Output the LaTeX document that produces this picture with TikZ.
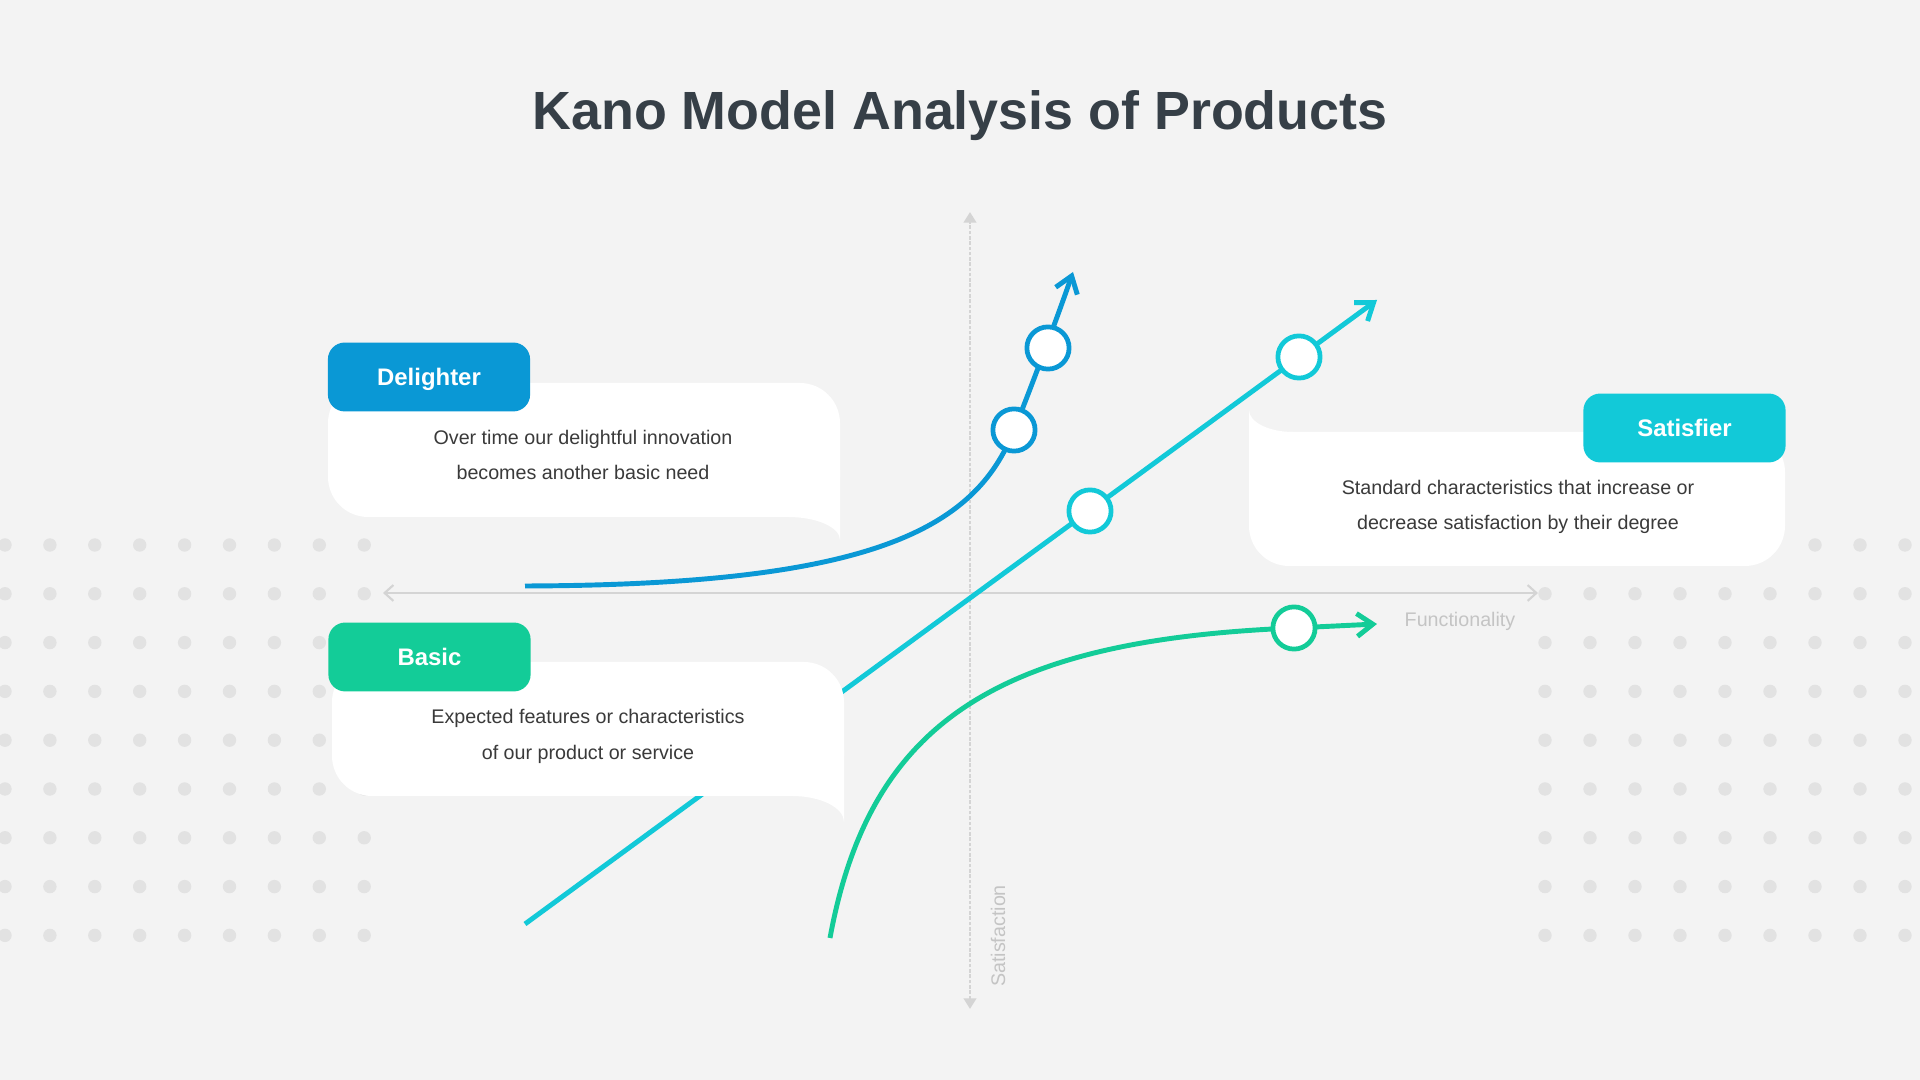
\documentclass[tikz,border=0pt]{standalone}
\usepackage{fontspec}
\setmainfont{Liberation Sans}
\usetikzlibrary{arrows.meta}
\definecolor{bgcol}{HTML}{F3F3F3}
\definecolor{dotcol}{HTML}{E2E2E2}
\definecolor{axiscol}{HTML}{D4D4D4}
\definecolor{titlecol}{HTML}{363F47}
\definecolor{textcol}{HTML}{3A3A3A}
\definecolor{delblue}{HTML}{0A98D5}
\definecolor{satcyan}{HTML}{12C9D8}
\definecolor{basgreen}{HTML}{13CC98}
\definecolor{faintcol}{HTML}{C4C4C4}

\begin{document}
\begin{tikzpicture}[x=0.01cm, y=-0.01cm,
  tagbox/.style={rounded corners=4.8pt, minimum width=57.5pt, minimum height=19.6pt, inner sep=0pt,
    text=white, font=\fontsize{6.8pt}{8pt}\selectfont\bfseries, text height=4.9pt, text depth=0pt},
  blurb/.style={anchor=base, text=textcol, font=\fontsize{5.6pt}{7pt}\selectfont, inner sep=0pt},
  ring/.style={circle, draw=#1, fill=white, line width=1.35pt, minimum size=12pt, inner sep=0pt},
  trend/.style={draw=#1, line width=1.4pt, -{Straight Barb[length=4.5pt, width=6.5pt]}},
  axislabel/.style={anchor=base, text=faintcol, font=\fontsize{5.6pt}{7pt}\selectfont, inner sep=0pt}]

  \fill[bgcol] (0,0) rectangle (1920,1080);
  \useasboundingbox (0,0) rectangle (1920,1080);

  \foreach \i in {0,...,8}
    \foreach \j in {0,...,8} {
      \fill[dotcol] (5+44.9*\i, 545+48.8*\j) circle (6.7);
      \fill[dotcol] (1545+45*\i, 545+48.8*\j) circle (6.7);
    }

  \node[anchor=base, text=titlecol, font=\fontsize{15.3pt}{18pt}\selectfont\bfseries, inner sep=0pt] (title) at (960,130) {Kano Model Analysis of Products};

  \coordinate (xl) at (383,593);
  \coordinate (xr) at (1538,593);
  \coordinate (yb) at (970,1009);
  \coordinate (yt) at (970,212);
  \draw[axiscol, line width=0.6pt, {Straight Barb[length=2.5pt,width=4.5pt]}-{Straight Barb[length=2.5pt,width=4.5pt]}] (xl) -- (xr);
  \draw[axiscol, line width=0.8pt, dash pattern=on 1pt off 0.5pt, {Triangle[length=3pt,width=3.5pt]}-{Triangle[length=3pt,width=3.5pt]}] (yb) -- (yt);
  \node[axislabel] (xlabel) at (1460,627) {Functionality};
  \node[axislabel, rotate=90] (ylabel) at (1005,936) {Satisfaction};

  \coordinate (sstart) at (525,924);
  \coordinate (s1) at (1090,511);
  \coordinate (s2) at (1299,357);
  \coordinate (stip) at (1377,300);
  \draw[trend=satcyan] (sstart) -- (stip);

  \fill[white, rounded corners=11.4pt] (328,383) rectangle (840,517);
  \fill[white] (788,517) .. controls (816.7,517) and (840,527.3) .. (840,540) -- (840,470) -- (788,470) -- cycle;
  \fill[white, rounded corners=11.4pt] (332,662) rectangle (844,796);
  \fill[white] (792,796) .. controls (820.7,796) and (844,807.6) .. (844,822) -- (844,750) -- (792,750) -- cycle;
  \fill[white, rounded corners=11.4pt] (1249,432) rectangle (1785,566);
  \fill[white] (1249,410) .. controls (1249,422.1) and (1268.7,432) .. (1293,432) -- (1293,480) -- (1249,480) -- cycle;

  \node[tagbox, fill=delblue] (dtag) at (429,377) {Delighter};
  \node[tagbox, fill=basgreen] (btag) at (429.5,657) {Basic};
  \node[tagbox, fill=satcyan] (stag) at (1684.5,428) {Satisfier};

  \node[blurb] (dtext1) at (583,444.5) {Over time our delightful innovation};
  \node[blurb] (dtext2) at (583,479.5) {becomes another basic need};
  \node[blurb] (btext1) at (588,723.5) {Expected features or characteristics};
  \node[blurb] (btext2) at (588,759.5) {of our product or service};
  \node[blurb] (stext1) at (1518,494.5) {Standard characteristics that increase or};
  \node[blurb] (stext2) at (1518,530) {decrease satisfaction by their degree};

  \coordinate (dstart) at (525,586);
  \coordinate (d1) at (1014,430);
  \coordinate (d2) at (1048,348);
  \coordinate (dtip) at (1073,272);
  \draw[trend=delblue] (dstart) .. controls (870,585) and (975,530) .. (d1) .. controls (1031,388) and (1060,310) .. (dtip);

  \coordinate (bstart) at (830,938);
  \coordinate (b1) at (1294,628);
  \coordinate (btip) at (1377,624);
  \draw[trend=basgreen] (bstart) .. controls (870,720) and (1000,640) .. (b1) -- (btip);

  \node[ring=delblue] (d1ring) at (d1) {};
  \node[ring=delblue] (d2ring) at (d2) {};
  \node[ring=satcyan] (s1ring) at (s1) {};
  \node[ring=satcyan] (s2ring) at (s2) {};
  \node[ring=basgreen] (b1ring) at (b1) {};
\end{tikzpicture}
\end{document}
